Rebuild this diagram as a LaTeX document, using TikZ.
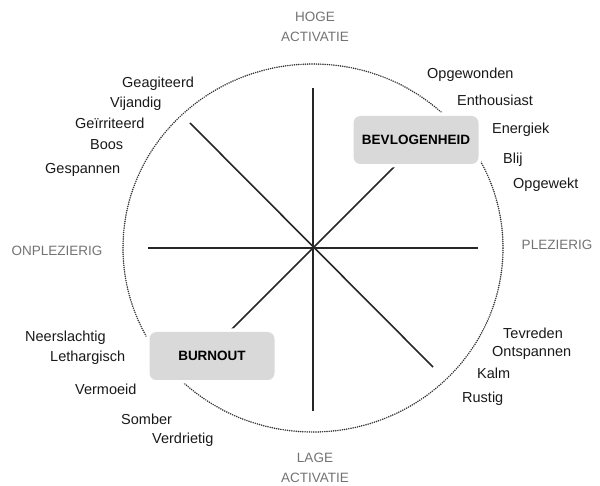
\documentclass[tikz,border=0pt]{standalone}
\usepackage{fontspec}
\setmainfont{Liberation Sans}
\usepackage{tikz}

\begin{document}
\begin{tikzpicture}[
  x=1pt, y=-1pt,
  word/.style   = {font=\fontsize{14.5}{17}\selectfont, text=black!90,
                   anchor=west, inner sep=0pt},
  pole/.style   = {font=\fontsize{13.5}{20}\selectfont, text=black!55,
                   align=center, inner sep=0pt},
  state/.style  = {fill=black!15, preaction={draw=white, line width=7pt},
                   rounded corners=7pt, minimum width=125pt, minimum height=48pt,
                   font=\bfseries\fontsize{13.5}{16}\selectfont},
  axis/.style   = {line width=1.6pt, draw=black!85},
  ring/.style   = {line width=1.7pt, draw=black!80, line cap=round,
                   dash pattern=on 0pt off 2.2pt},
]
\useasboundingbox (0,0) rectangle (600,486);

%% ─── ring and axes ────────────────────────────────────────────────────────
\coordinate (c) at (313,248);
\draw[ring] (c) ellipse [x radius=190pt, y radius=184pt];

\draw[axis] (313,88) -- (313,411);
\draw[axis] (148,248) -- (478,248);
\draw[axis] (190,123) -- (433,367);
\draw[axis] (191,370) -- (435,126);

%% ─── quadrant states ──────────────────────────────────────────────────────
\node[state] (bevl) at (416,140) {BEVLOGENHEID};
\node[state] (burn) at (212,356) {BURNOUT};

%% ─── poles ────────────────────────────────────────────────────────────────
\node[pole] (hoog)  at (315,27)  {HOGE\\ACTIVATIE};
\node[pole] (laag)  at (315,468) {LAGE\\ACTIVATIE};
\node[pole] (onpl)  at (57,251)  {ONPLEZIERIG};
\node[pole] (plez)  at (557,245) {PLEZIERIG};

%% ─── emotion words ────────────────────────────────────────────────────────
\foreach \w/\x/\y [count=\i] in {
    Opgewonden/427/75, Enthousiast/457/100, Energiek/492/130,
    Blij/503/160, Opgewekt/513/185,
    Geagiteerd/122/84, Vijandig/110/104, Geïrriteerd/75/123,
    Boos/90/145, Gespannen/45/170,
    Neerslachtig/25/338, Lethargisch/50/358, Vermoeid/75/389,
    Somber/121/419, Verdrietig/152/440,
    Tevreden/503/333, Ontspannen/492/353, Kalm/477/373, Rustig/462/399}
  \node[word] (w\i) at (\x,\y) {\w};

\end{tikzpicture}
\end{document}
